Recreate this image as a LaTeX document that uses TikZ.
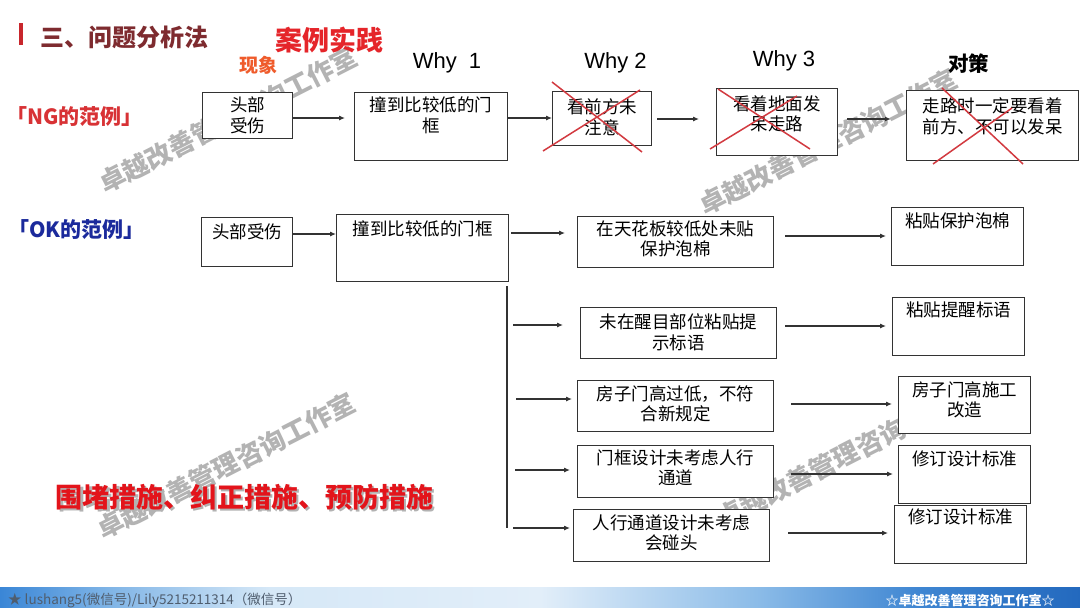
\documentclass[tikz,border=0pt]{standalone}
\usepackage{fontspec}
\setmainfont{Liberation Sans}
\newfontfamily\cjk{Noto Sans CJK SC}
\usetikzlibrary{arrows.meta}
\definecolor{titc}{HTML}{7E2B2F}
\definecolor{barc}{HTML}{C8262C}
\definecolor{redc}{HTML}{E5252A}
\definecolor{orc}{HTML}{EF5B2B}
\definecolor{ngc}{HTML}{D83235}
\definecolor{okc}{HTML}{1B2A9C}
\definecolor{measc}{HTML}{E3141B}
\definecolor{xred}{HTML}{D23A40}
\definecolor{boxc}{HTML}{333333}
\definecolor{wmc}{HTML}{B3B3B3}
\definecolor{foot}{HTML}{4F5D6E}
\definecolor{bandA}{HTML}{3A86D6}
\definecolor{bandB}{HTML}{7FB4E6}
\definecolor{bandC}{HTML}{D6E8F7}
\definecolor{bandD}{HTML}{E2EEF9}
\definecolor{bandE}{HTML}{8CBCE8}
\definecolor{bandF}{HTML}{3F86D2}
\definecolor{bandG}{HTML}{2369BE}
\pgfdeclarehorizontalshading{band}{100bp}{color(0bp)=(bandA); color(25bp)=(bandA); color(30bp)=(bandB); color(37.5bp)=(bandC); color(50bp)=(bandD); color(60bp)=(bandE); color(67.5bp)=(bandF); color(75bp)=(bandG); color(100bp)=(bandG)}
\newcommand\mkbox[7]{%
  \node[bx, minimum width={(#4)-(#2)}, minimum height={(#5)-(#3)}] (#1) at (#2,#3) {};
  \node[bt] (#1t) at ([yshift=-#6pt]#1.north) {#7};}
\begin{document}
\begin{tikzpicture}[x=1pt,y=-1pt,
  bx/.style={draw=boxc, line width=1.1pt, fill=white, inner sep=0pt, anchor=north west},
  bt/.style={font=\cjk\fontsize{17.5}{20.5}\selectfont, align=center, inner sep=0pt, anchor=north},
  ar/.style={draw=boxc, line width=1.1pt, -{Latex[length=6pt,width=5pt]}},
  ln/.style={draw=boxc, line width=1.1pt},
  xline/.style={draw=xred, line width=1.5pt},
  wm/.style={font=\cjk\bfseries\fontsize{26}{26}\selectfont, text=wmc, rotate=27, inner sep=0pt},
  hd/.style={font=\fontsize{22}{22}\selectfont, inner sep=0pt}]
\useasboundingbox (0,0) rectangle (1080,608);
\fill[white] (0,0) rectangle (1080,608);

% watermarks
\node[wm] (wm1) at (228,120) {卓越改善管理咨询工作室};
\node[wm] (wm2) at (828,142) {卓越改善管理咨询工作室};
\node[wm] (wm3) at (226,466) {卓越改善管理咨询工作室};
\node[wm] (wm4) at (846,455) {卓越改善管理咨询工作室};

% title
\node[fill=barc, minimum width=4pt, minimum height=22pt, inner sep=0pt, anchor=north west] (bar) at (19,23) {};
\node[font=\cjk\bfseries\fontsize{24}{24}\selectfont, text=titc, anchor=west, inner sep=0pt] (title) at (40,37) {三、问题分析法};
\node[font=\cjk\bfseries\fontsize{27}{27}\selectfont, text=redc, inner sep=0pt] (case) at (329,40) {案例实践};
\node[font=\cjk\bfseries\fontsize{19}{19}\selectfont, text=orc, inner sep=0pt] (phen) at (258,65) {现象};
\node[hd] (w1) at (447,63) {Why\ \ 1};
\node[hd] (w2) at (615.5,63) {Why 2};
\node[hd] (w3) at (784,61) {Why 3};
\node[font=\cjk\bfseries\fontsize{20.5}{20.5}\selectfont, inner sep=0pt] (dc) at (968.5,64) {对策};

\node[font=\cjk\bfseries\fontsize{21}{21}\selectfont, text=ngc, anchor=west, inner sep=0pt] (ng) at (6,117) {「NG的范例」};
\node[font=\cjk\bfseries\fontsize{21}{21}\selectfont, text=okc, anchor=west, inner sep=0pt] (ok) at (8,230) {「OK的范例」};

% NG row
\mkbox{ng0}{202}{92}{292}{138}{5}{头部\\受伤}
\mkbox{ng1}{354}{92}{507}{160}{5}{撞到比较低的门\\框}
\mkbox{ng2}{552}{91}{651}{145}{7.5}{看前方未\\注意}
\mkbox{ng3}{716}{88}{837}{155}{7.5}{看着地面发\\呆走路}
\mkbox{ng4}{906}{90}{1078}{160}{7.5}{走路时一定要看着\\前方、不可以发呆}

\draw[ar, shorten >=9pt] (ng0.east |- 0,118) -- (ng1.west |- 0,118);
\draw[ar] (ng1.east |- 0,118) -- (ng2.west |- 0,118);
\draw[ar, shorten <=5pt, shorten >=17pt] (ng2.east |- 0,119) -- (ng3.west |- 0,119);
\draw[ar, line width=1.6pt, shorten <=9pt, shorten >=15pt] (ng3.east |- 0,119) -- (ng4.west |- 0,119);

\draw[xline] (552,82) -- (642,152);
\draw[xline] (543,151) -- (640,90);
\draw[xline] (718,89) -- (810,149);
\draw[xline] (710,149) -- (797,96);
\draw[xline] (942,88) -- (1023,164);
\draw[xline] (933,164) -- (1012,108);

% OK row
\mkbox{ok0}{201}{217}{292}{266}{6.5}{头部受伤}
\mkbox{ok1}{336}{214}{508}{281}{6.5}{撞到比较低的门框}
\mkbox{m1}{577}{216}{773}{267}{4.5}{在天花板较低处未贴\\保护泡棉}
\mkbox{m2}{580}{307}{776}{358}{6.5}{未在醒目部位粘贴提\\示标语}
\mkbox{m3}{577}{380}{773}{431}{5.5}{房子门高过低，不符\\合新规定}
\mkbox{m4}{577}{445}{773}{497}{4.5}{门框设计未考虑人行\\通道}
\mkbox{m5}{573}{509}{769}{561}{5.5}{人行通道设计未考虑\\会碰头}
\mkbox{r1}{891}{207}{1023}{265}{5.5}{粘贴保护泡棉}
\mkbox{r2}{892}{297}{1024}{355}{4.5}{粘贴提醒标语}
\mkbox{r3}{898}{376}{1030}{433}{5.5}{房子门高施工\\改造}
\mkbox{r4}{898}{445}{1030}{503}{5.5}{修订设计标准}
\mkbox{r5}{894}{505}{1026}{563}{3.5}{修订设计标准}

\draw[ar] (ok0.east |- 0,234) -- (ok1.west |- 0,234);
\draw[ar, shorten <=2pt, shorten >=12pt] (ok1.east |- 0,233) -- (m1.west |- 0,233);
\coordinate (vt) at (507,286);
\coordinate (vb) at (507,528);
\draw[ln] (vt) -- (vb);
\draw[ar, shorten <=6pt, shorten >=17pt] (vt |- 0,325) -- (m2.west |- 0,325);
\draw[ar, shorten <=9pt, shorten >=5pt] (vt |- 0,399) -- (m3.west |- 0,399);
\draw[ar, shorten <=8pt, shorten >=7pt] (vt |- 0,470) -- (m4.west |- 0,470);
\draw[ar, shorten <=6pt, shorten >=3pt] (vt |- 0,528) -- (m5.west |- 0,528);

\draw[ar, shorten <=11pt, shorten >=5pt] (m1.east |- 0,236) -- (r1.west |- 0,236);
\draw[ar, shorten <=8pt, shorten >=6pt] (m2.east |- 0,326) -- (r2.west |- 0,326);
\draw[ar, shorten <=17pt, shorten >=6pt] (m3.east |- 0,404) -- (r3.west |- 0,404);
\draw[ar, shorten <=17pt, shorten >=5pt] (m4.east |- 0,474) -- (r4.west |- 0,474);
\draw[ar, shorten <=18pt, shorten >=6pt] (m5.east |- 0,533) -- (r5.west |- 0,533);

% measures
\node[font=\cjk\bfseries\fontsize{27}{27}\selectfont, text=black!30, inner sep=0pt] (meass) at (247,499) {围堵措施、纠正措施、预防措施};
\node[font=\cjk\bfseries\fontsize{27}{27}\selectfont, text=measc, inner sep=0pt] (meas) at (245,497) {围堵措施、纠正措施、预防措施};

% footer band
\shade[shading=band] (0,587) rectangle (1080,608);
\node[font=\cjk\fontsize{13.5}{13.5}\selectfont, text=foot, anchor=west, inner sep=0pt] (fl) at (8,600) {★ lushang5(微信号)/Lily5215211314（微信号）};
\node[font=\cjk\bfseries\fontsize{13}{13}\selectfont, text=white, inner sep=0pt] (fr) at (970,600) {☆卓越改善管理咨询工作室☆};
\end{tikzpicture}
\end{document}
